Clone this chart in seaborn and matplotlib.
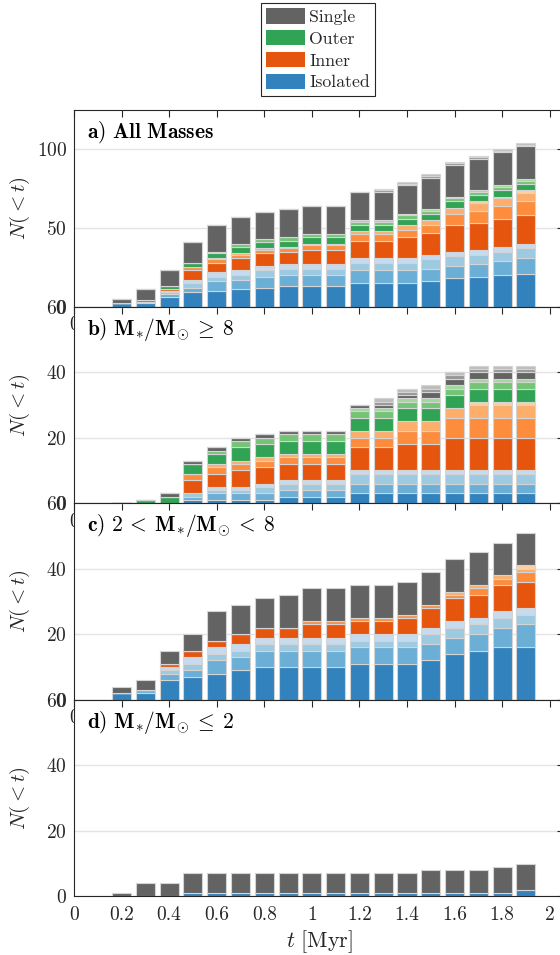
import numpy as np
import pandas as pd
import matplotlib
matplotlib.use("Agg")
import matplotlib.pyplot as plt
from matplotlib import ticker
from matplotlib.patches import Patch
import seaborn as sns

# Formation times (bin centres, Myr)
t_myr = [0.2, 0.3, 0.4, 0.5, 0.6, 0.7, 0.8, 0.9, 1.0,
         1.1, 1.2, 1.3, 1.4, 1.5, 1.6, 1.7, 1.8, 1.9]

# Cumulative counts per channel; each channel lists its shades from the
# darkest (bottom of the stack) to the lightest (top).
all_isolated = [
    [2, 2, 6, 9, 10, 11, 12, 13, 13, 13, 15, 15, 15, 16, 18, 19, 20, 21],
    [0, 1, 2, 3, 6, 6, 7, 7, 7, 7, 8, 8, 8, 8, 8, 8, 9, 10],
    [0, 0, 1, 3, 3, 3, 4, 4, 4, 4, 5, 5, 5, 6, 6, 6, 6, 6],
    [0, 0, 1, 2, 3, 3, 3, 3, 3, 3, 3, 3, 3, 3, 3, 3, 3, 3],
]
all_inner = [
    [0, 0, 1, 6, 6, 8, 8, 8, 9, 9, 11, 11, 13, 14, 17, 17, 18, 18],
    [0, 0, 0, 2, 2, 2, 2, 2, 3, 3, 4, 4, 5, 5, 7, 8, 8, 9],
    [0, 0, 0, 0, 1, 1, 1, 1, 1, 1, 2, 2, 3, 3, 4, 5, 5, 5],
    [0, 0, 0, 0, 0, 0, 0, 0, 0, 0, 0, 0, 0, 0, 0, 1, 1, 2],
]
all_outer = [
    [0, 1, 2, 3, 3, 4, 4, 4, 4, 4, 4, 4, 4, 4, 4, 4, 4, 4],
    [0, 0, 0, 0, 1, 2, 2, 2, 2, 2, 2, 2, 2, 2, 2, 2, 2, 2],
    [0, 0, 0, 0, 0, 0, 0, 0, 0, 0, 1, 1, 1, 1, 1, 1, 1, 1],
]
all_single = [
    [3, 7, 10, 13, 17, 17, 17, 18, 18, 18, 18, 18, 18, 20, 20, 20, 21, 21],
    [0, 0, 0, 0, 0, 0, 0, 0, 0, 0, 0, 1, 1, 1, 1, 1, 1, 1],
    [0, 0, 0, 0, 0, 0, 0, 0, 0, 0, 0, 1, 1, 1, 1, 1, 1, 1],
]

high_isolated = [
    [0, 0, 0, 1, 1, 1, 1, 2, 2, 2, 3, 3, 3, 3, 3, 3, 3, 3],
    [0, 0, 0, 1, 2, 2, 2, 2, 2, 2, 3, 3, 3, 3, 3, 3, 3, 3],
    [0, 0, 0, 1, 1, 1, 2, 2, 2, 2, 3, 3, 3, 3, 3, 3, 3, 3],
    [0, 0, 0, 0, 1, 1, 1, 1, 1, 1, 1, 1, 1, 1, 1, 1, 1, 1],
]
high_inner = [
    [0, 0, 0, 4, 4, 5, 5, 5, 5, 5, 7, 7, 8, 8, 10, 10, 10, 10],
    [0, 0, 0, 2, 2, 2, 2, 2, 2, 2, 3, 3, 4, 4, 6, 6, 6, 6],
    [0, 0, 0, 0, 1, 1, 1, 1, 1, 1, 2, 2, 3, 3, 3, 4, 4, 4],
    [0, 0, 0, 0, 0, 0, 0, 0, 0, 0, 0, 0, 0, 0, 0, 1, 1, 1],
]
high_outer = [
    [0, 1, 2, 3, 3, 4, 4, 4, 4, 4, 4, 4, 4, 4, 4, 4, 4, 4],
    [0, 0, 0, 0, 1, 2, 2, 2, 2, 2, 2, 2, 2, 2, 2, 2, 2, 2],
    [0, 0, 0, 0, 0, 0, 0, 0, 0, 0, 1, 1, 1, 1, 1, 1, 1, 1],
]
high_single = [
    [0, 0, 1, 1, 1, 1, 1, 1, 1, 1, 1, 1, 1, 2, 2, 2, 2, 2],
    [0, 0, 0, 0, 0, 0, 0, 0, 0, 0, 0, 1, 1, 1, 1, 1, 1, 1],
    [0, 0, 0, 0, 0, 0, 0, 0, 0, 0, 0, 1, 1, 1, 1, 1, 1, 1],
]

mid_isolated = [
    [2, 2, 6, 7, 8, 9, 10, 10, 10, 10, 11, 11, 11, 12, 14, 15, 16, 16],
    [0, 1, 2, 2, 4, 4, 5, 5, 5, 5, 5, 5, 5, 5, 5, 5, 6, 7],
    [0, 0, 1, 2, 2, 2, 2, 2, 2, 2, 2, 2, 2, 3, 3, 3, 3, 3],
    [0, 0, 1, 2, 2, 2, 2, 2, 2, 2, 2, 2, 2, 2, 2, 2, 2, 2],
]
mid_inner = [
    [0, 0, 1, 2, 2, 3, 3, 3, 4, 4, 4, 4, 5, 6, 7, 7, 8, 8],
    [0, 0, 0, 0, 0, 0, 0, 0, 1, 1, 1, 1, 1, 1, 1, 2, 2, 3],
    [0, 0, 0, 0, 0, 0, 0, 0, 0, 0, 0, 0, 0, 0, 1, 1, 1, 1],
    [0, 0, 0, 0, 0, 0, 0, 0, 0, 0, 0, 0, 0, 0, 0, 0, 0, 1],
]
mid_single = [
    [2, 3, 4, 5, 9, 9, 9, 10, 10, 10, 10, 10, 10, 10, 10, 10, 10, 10],
]

low_isolated = [
    [0, 0, 0, 1, 1, 1, 1, 1, 1, 1, 1, 1, 1, 1, 1, 1, 1, 2],
]
low_single = [
    [1, 4, 4, 6, 6, 6, 6, 6, 6, 6, 6, 6, 6, 7, 7, 7, 8, 8],
]

panel_titles = [
    r"$\mathbf{a)\ All\ Masses}$",
    r"$\mathbf{b)\ M_{*}/M_{\odot}\:\geq\:8}$",
    r"$\mathbf{c)\ 2\:<\:M_{*}/M_{\odot}\:<\:8}$",
    r"$\mathbf{d)\ M_{*}/M_{\odot}\:\leq\:2}$",
]
channels = ["Isolated", "Inner", "Outer", "Single"]
legend_order = ["Single", "Outer", "Inner", "Isolated"]

# ---------------------------------------------------------------- style
sns.set_theme(style="white")
plt.rcParams["font.family"] = ["cmr10"]
plt.rcParams["mathtext.fontset"] = "cm"
plt.rcParams["axes.formatter.use_mathtext"] = True
plt.rcParams["axes.unicode_minus"] = False

tab = sns.color_palette("tab20c", 20)
channel_base = {"Isolated": 0, "Inner": 4, "Outer": 8, "Single": 16}
palette = {f"{c} {k}": tab[channel_base[c] + k]
           for c in channels for k in range(4)}
stack_order = [f"{c} {k}" for c in channels for k in range(4)]

INK = "#262626"
W, H = 560, 955
AX_LEFT, AX_WIDTH, AX_HEIGHT = 74, 490, 196.6
panel_bottoms = [306.6, 503.2, 699.8, 896.4]


def long_table(groups):
    rows = []
    for channel, shades in groups.items():
        for k, counts in enumerate(shades):
            for tt, n in zip(t_myr, counts):
                rows.append((tt, f"{channel} {k}", n))
    return pd.DataFrame(rows, columns=["t", "layer", "n"])


def draw_panel(ax, groups, title, ymax, yticks):
    df = long_table(groups)
    present = set(df["layer"])
    order = [lvl for lvl in stack_order if lvl in present]
    # histplot stacks the last hue level at the bottom
    sns.histplot(data=df, x="t", weights="n", hue="layer",
                 hue_order=order[::-1], palette=palette,
                 multiple="stack", binwidth=0.1, binrange=(0.15, 1.95),
                 shrink=0.8, alpha=1, edgecolor="#d4d4d4", linewidth=0.8,
                 legend=False, ax=ax)
    ax.set_xlim(0, 2.06)
    ax.set_ylim(0, ymax)
    ax.set_xticks(np.round(np.arange(0, 2.01, 0.2), 1))
    ax.xaxis.set_major_formatter(ticker.FuncFormatter(lambda v, p: f"{v:g}"))
    ax.set_yticks(yticks)
    ax.yaxis.grid(True, color="#e4e4e4", linewidth=1.0)
    ax.xaxis.grid(False)
    ax.set_axisbelow(True)
    ax.tick_params(axis="both", direction="in", top=True, right=True,
                   length=5, width=0.8, color=INK, labelcolor=INK,
                   labelsize=14)
    ax.tick_params(axis="x", pad=7)
    ax.tick_params(axis="y", pad=5)
    for sp in ax.spines.values():
        sp.set_color(INK)
        sp.set_linewidth(0.8)
    ax.set_xlabel("")
    ax.set_ylabel(r"$N(<t)$", fontsize=15, color=INK)
    ax.yaxis.set_label_coords(-0.085, 0.5)
    ax.text(0.026, 0.885, title, transform=ax.transAxes, fontsize=15.5,
            color="black", ha="left", va="center")


fig = plt.figure(figsize=(W / 100, H / 100), dpi=100)
panel_groups = [
    {"Isolated": all_isolated, "Inner": all_inner,
     "Outer": all_outer, "Single": all_single},
    {"Isolated": high_isolated, "Inner": high_inner,
     "Outer": high_outer, "Single": high_single},
    {"Isolated": mid_isolated, "Inner": mid_inner, "Single": mid_single},
    {"Isolated": low_isolated, "Single": low_single},
]
limits = [(125, [0, 50, 100]), (60, [0, 20, 40, 60]),
          (60, [0, 20, 40, 60]), (60, [0, 20, 40, 60])]

axes = []
for bottom, groups, title, (ymax, yt) in zip(panel_bottoms, panel_groups,
                                              panel_titles, limits):
    ax = fig.add_axes([AX_LEFT / W, 1 - bottom / H, AX_WIDTH / W, AX_HEIGHT / H])
    ax.set_facecolor("white")
    draw_panel(ax, groups, title, ymax, yt)
    axes.append(ax)

axes[-1].set_xlabel(r"$t\ [\mathrm{Myr}]$", fontsize=16, color=INK, labelpad=3)

handles = [Patch(facecolor=tab[channel_base[c]], edgecolor="none", label=c)
           for c in legend_order]
leg = fig.legend(handles=handles, loc="upper center",
                 bbox_to_anchor=(318 / W, 1 - 3 / H), fontsize=12.8,
                 frameon=True, fancybox=False, framealpha=1,
                 edgecolor=INK, handlelength=2.2, handleheight=0.95,
                 handletextpad=0.24, labelspacing=0.28, borderpad=0.3,
                 borderaxespad=0)
leg.get_frame().set_linewidth(0.8)

fig.savefig("out.png", dpi=100)
